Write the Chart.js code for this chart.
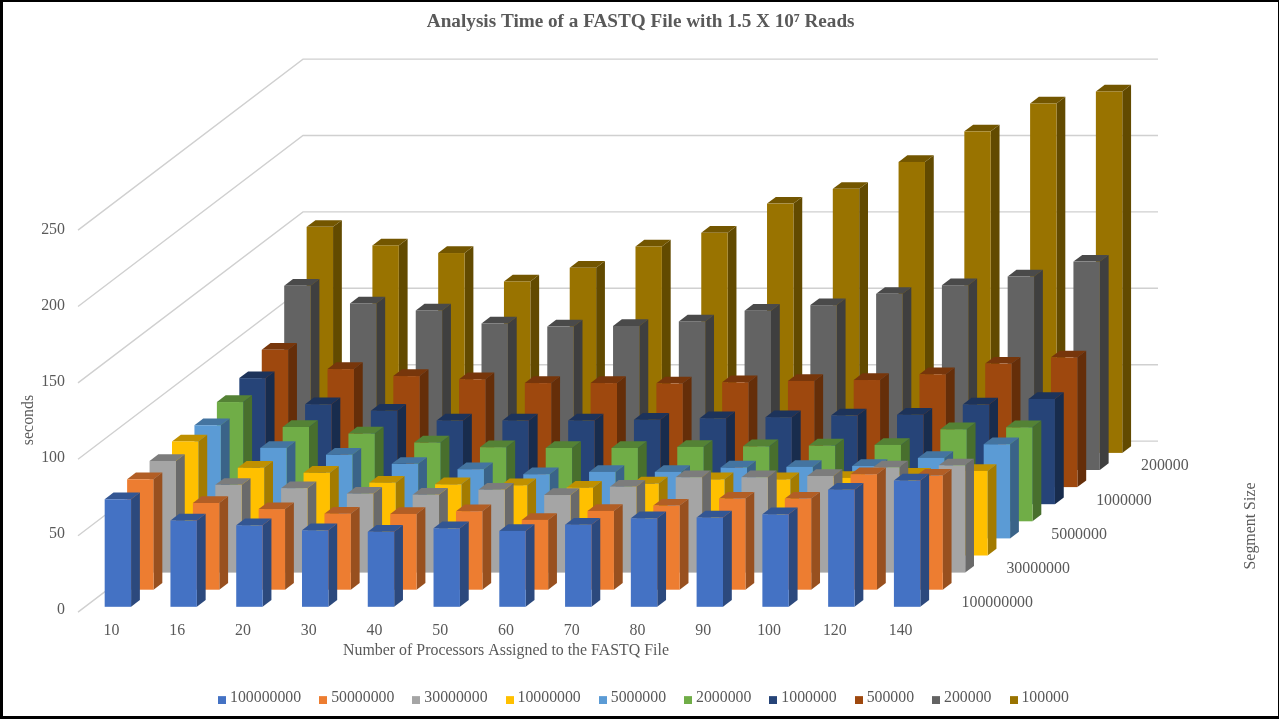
<!DOCTYPE html>
<html>
<head>
<meta charset="utf-8">
<title>Analysis Time of a FASTQ File</title>
<style>
  html, body { margin: 0; padding: 0; background: #fff; overflow: hidden; }
  #grafico { position: absolute; left: 0; top: 0; }
  #moldura {
    position: absolute; left: 0; top: 0; width: 1279px; height: 719px;
    box-sizing: border-box; border: solid #000; border-width: 2px 1px 3px 3px;
    pointer-events: none;
  }
</style>
</head>
<body>
<canvas id="grafico" width="1279" height="719"></canvas>
<div id="moldura"></div>
<script src="https://cdn.jsdelivr.net/npm/chart.js@4/dist/chart.umd.js"></script>
<script>
const processors = ["10", "16", "20", "30", "40", "50", "60", "70", "80", "90", "100", "120", "140"];

const segment100000000 = [70.7, 56.7, 53.6, 50.3, 49.3, 51.6, 49.9, 54, 58.2, 58.7, 60.8, 77, 83];
const segment50000000 = [72.6, 57, 53, 50, 49.8, 51.6, 45.9, 51.8, 55.3, 59.9, 59.9, 75.9, 75];
const segment30000000 = [73.4, 57.7, 55.5, 51.9, 51.2, 54.5, 51, 56.5, 62.7, 62.7, 63.5, 69.2, 70.5];
const segment10000000 = [75, 57.7, 54.4, 47.9, 46.8, 46.2, 44.6, 47.3, 50.1, 50.1, 51, 53.2, 55.6];
const segment5000000 = [74.4, 59.5, 55, 49, 45.5, 42.2, 43.7, 43.7, 46.6, 47, 47.6, 52.9, 61.9];
const segment2000000 = [78.4, 62, 57.7, 51.8, 48.7, 48.2, 48.2, 48.9, 49.3, 49.8, 50.2, 60.5, 61.8];
const segment1000000 = [82.9, 65.7, 61.4, 55, 55, 55, 55.5, 56.5, 57.2, 58.4, 58.8, 65.5, 69.2];
const segment500000 = [90.3, 77.6, 73, 70.9, 68.4, 68.4, 68.2, 68.9, 69.8, 70.4, 74.2, 81.2, 85.3];
const segment200000 = [121.1, 109.5, 104.9, 96.3, 94.3, 94.7, 97.7, 104.7, 108.4, 115.8, 121.5, 127.2, 137];
const segment100000 = [148.6, 136.4, 131.4, 112.7, 121.7, 135.7, 144.7, 163.9, 173.6, 191.3, 211.4, 229.7, 237.6];

const segmentNames = ["100000000", "50000000", "30000000", "10000000", "5000000", "2000000", "1000000", "500000", "200000", "100000"];
const segmentValues = [segment100000000, segment50000000, segment30000000, segment10000000, segment5000000,
  segment2000000, segment1000000, segment500000, segment200000, segment100000];
const segmentColors = ["#4472C4", "#ED7D31", "#A5A5A5", "#FFC000", "#5B9BD5", "#70AD47", "#264478", "#9E480E", "#636363", "#997300"];

const FONTE = "'Liberation Serif', 'Times New Roman', serif";
const COR_TEXTO = "#595959";
const COR_GRADE = "#d0d0d0";
const TAM_TEXTO = 15.9;

// oblique projection: how far each series row is pushed back
const PASSO_X = 22.44;
const PASSO_Y = 17.1;
const LADO_X = 8.8;
const LADO_Y = 6.7;
// walls run a little taller than the axis labels, as in the original 3D view
const ESCALA_PAREDE = 1.0045;

function escurecer(hex, fator) {
  const n = parseInt(hex.slice(1), 16);
  const r = Math.round(((n >> 16) & 255) * fator);
  const g = Math.round(((n >> 8) & 255) * fator);
  const b = Math.round((n & 255) * fator);
  return `rgb(${r},${g},${b})`;
}

function poligono(ctx, cor, pontos) {
  ctx.fillStyle = cor;
  ctx.beginPath();
  pontos.forEach((p, i) => (i ? ctx.lineTo(p[0], p[1]) : ctx.moveTo(p[0], p[1])));
  ctx.closePath();
  ctx.fill();
}

// bar controller whose elements are painted as prisms, shifted back by dataset index
class Bar3dController extends Chart.BarController {
  draw() {
    const ctx = this.chart.ctx;
    const cor = segmentColors[this.index];
    const dx = PASSO_X * this.index;
    const dy = -3.3 - PASSO_Y * this.index;

    this.getMeta().data.forEach(bar => {
      const esq = bar.x - bar.width / 2 + dx;
      const dir = esq + bar.width;
      const base = bar.base + dy;
      const topo = bar.y + dy;

      poligono(ctx, escurecer(cor, 0.64), [[dir, topo], [dir + LADO_X, topo - LADO_Y], [dir + LADO_X, base - LADO_Y], [dir, base]]);
      poligono(ctx, escurecer(cor, 0.75), [[esq, topo], [esq + LADO_X, topo - LADO_Y], [dir + LADO_X, topo - LADO_Y], [dir, topo]]);
      ctx.fillStyle = cor;
      ctx.fillRect(esq, topo, bar.width, base - topo);
    });
  }
}
Bar3dController.id = "bar3d";
Bar3dController.defaults = {};
Chart.register(Bar3dController);

const paredes = {
  id: "paredes",
  beforeDatasetsDraw(chart) {
    const ctx = chart.ctx;
    const { x, y } = chart.scales;
    const inicio = chart.chartArea.left - 7;
    const zero = y.getPixelForValue(0);

    ctx.save();
    ctx.strokeStyle = COR_GRADE;
    ctx.lineWidth = 1.4;
    y.ticks.forEach(tick => {
      const py = zero + 2 + (y.getPixelForValue(tick.value) - zero) * ESCALA_PAREDE;
      ctx.beginPath();
      ctx.moveTo(inicio, py);
      ctx.lineTo(inicio + 225, py - 171);
      ctx.lineTo(x.right + 218, py - 171);
      ctx.stroke();
    });
    ctx.restore();
  },
  afterDraw(chart) {
    const ctx = chart.ctx;
    const { x, y } = chart.scales;
    const zero = y.getPixelForValue(0);

    ctx.save();
    ctx.fillStyle = COR_TEXTO;
    ctx.font = `${TAM_TEXTO}px ${FONTE}`;
    ctx.textBaseline = "middle";

    // every second series gets a label on the depth axis
    ctx.textAlign = "left";
    segmentNames.forEach((nome, s) => {
      if (s % 2) return;
      ctx.fillText(nome, x.right + 21.5 + PASSO_X * s, zero - 7 - PASSO_Y * s);
    });

    ctx.textAlign = "center";
    ctx.fillText("Number of Processors Assigned to the FASTQ File", 506, zero + 41);

    ctx.translate(1251, 526);
    ctx.rotate(-Math.PI / 2);
    ctx.fillText("Segment Size", 0, 0);
    ctx.restore();
  }
};

// legend swatch, sits slightly under the middle of the text
function quadradinho(cor) {
  const c = document.createElement("canvas");
  c.width = 8;
  c.height = 12;
  const g = c.getContext("2d");
  g.fillStyle = cor;
  g.fillRect(0, 4, 8, 8);
  return c;
}

new Chart(document.getElementById("grafico"), {
  type: "bar3d",
  data: {
    labels: processors,
    datasets: segmentNames.map((nome, s) => ({
      label: nome,
      data: segmentValues[s],
      backgroundColor: segmentColors[s],
      borderWidth: 0,
      grouped: false,
      barThickness: 26.4,
      clip: false
    }))
  },
  options: {
    responsive: false,
    animation: false,
    layout: { padding: { left: 12, bottom: 3 } },
    plugins: {
      title: {
        display: true,
        text: "Analysis Time of a FASTQ File with 1.5 X 10⁷ Reads  ",
        color: COR_TEXTO,
        font: { family: FONTE, size: 19.2, weight: "bold" },
        padding: { top: 11, bottom: 195.8 }
      },
      legend: {
        position: "bottom",
        labels: {
          color: COR_TEXTO,
          font: { family: FONTE, size: 15.8 },
          usePointStyle: true,
          boxWidth: 0.01,
          padding: 22.1,
          generateLabels(chart) {
            return Chart.defaults.plugins.legend.labels.generateLabels(chart).map((item, s) => {
              item.pointStyle = quadradinho(segmentColors[s]);
              return item;
            });
          }
        }
      },
      tooltip: { enabled: false }
    },
    scales: {
      x: {
        type: "category",
        grid: { display: false },
        border: { display: false },
        afterFit(scale) { scale.height = 58; },
        ticks: {
          color: COR_TEXTO,
          font: { family: FONTE, size: TAM_TEXTO },
          padding: 3,
          labelOffset: -6.5,
          maxRotation: 0,
          autoSkip: false
        }
      },
      y: {
        type: "linear",
        min: 0,
        max: 250,
        grid: { display: false },
        border: { display: false },
        afterFit(scale) { scale.width = 73; },
        title: {
          display: true,
          text: "seconds",
          color: COR_TEXTO,
          font: { family: FONTE, size: TAM_TEXTO },
          padding: { top: 7, bottom: 0 }
        },
        ticks: {
          stepSize: 50,
          color: COR_TEXTO,
          font: { family: FONTE, size: TAM_TEXTO },
          padding: 12
        }
      },
      // empty axis that keeps the room on the right for the depth of the chart
      profundidade: {
        type: "linear",
        position: "right",
        grid: { display: false },
        border: { display: false },
        ticks: { display: false },
        afterFit(scale) { scale.width = 339; }
      }
    }
  },
  plugins: [paredes]
});
</script>
</body>
</html>
